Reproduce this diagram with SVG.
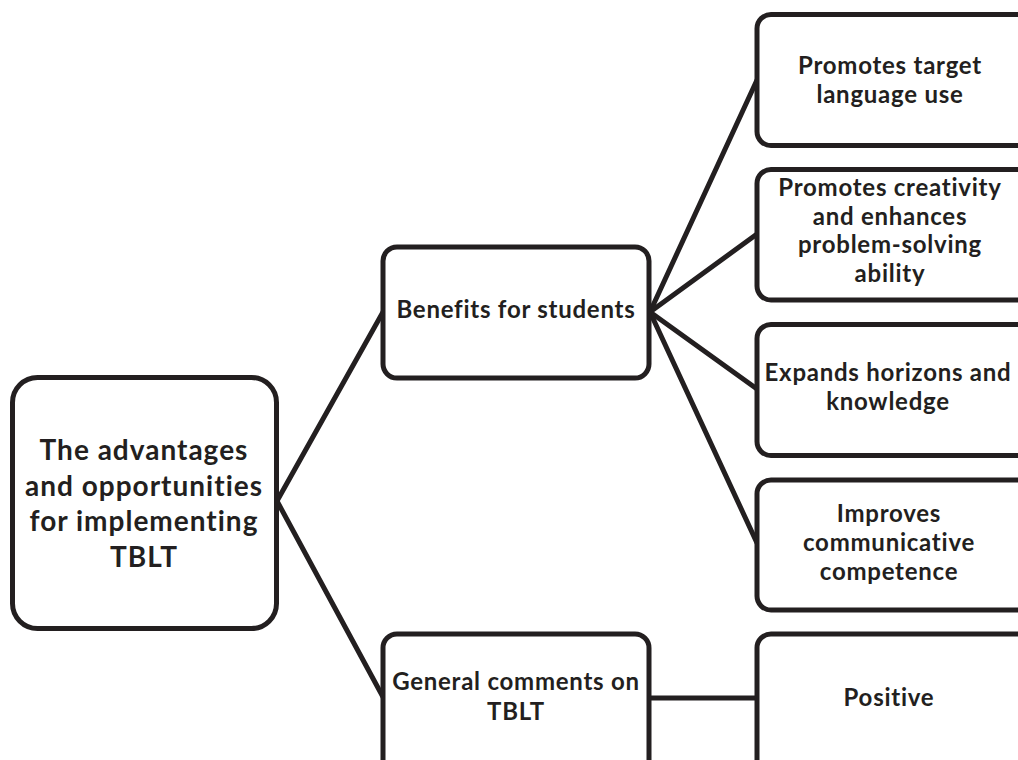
<svg xmlns="http://www.w3.org/2000/svg" width="1018" height="760" viewBox="0 0 1018 760">
<style>
.box{fill:#ffffff;stroke:#231f20;stroke-width:5}
.edge{fill:none;stroke:#231f20;stroke-width:5;stroke-linecap:round}
text{font-family:Lato,"Open Sans","Liberation Sans",sans-serif;font-weight:700;fill:#231f20;text-anchor:middle;font-size:24px;letter-spacing:0.75px}
.big{font-size:28px;letter-spacing:1px}
</style>
<rect width="1018" height="760" fill="#ffffff"/>
<g id="connectors">
<line class="edge" x1="277" y1="501" x2="383" y2="312"/>
<line class="edge" x1="277" y1="501" x2="383" y2="697"/>
<line class="edge" x1="650" y1="312" x2="757" y2="80"/>
<line class="edge" x1="650" y1="312" x2="757" y2="234"/>
<line class="edge" x1="650" y1="312" x2="757" y2="389"/>
<line class="edge" x1="650" y1="312" x2="757" y2="543"/>
<line class="edge" x1="649" y1="698" x2="757" y2="698"/>
</g>
<g id="root">
<rect class="box" x="12.5" y="377.5" width="264" height="251" rx="25"/>
<text class="big" x="144" y="460">The advantages</text>
<text class="big" x="144" y="495.5">and opportunities</text>
<text class="big" x="144" y="531">for implementing</text>
<text class="big" x="144" y="566.5">TBLT</text>
</g>
<g id="benefits">
<rect class="box" x="383" y="247" width="266" height="131" rx="14"/>
<text x="516" y="318">Benefits for students</text>
</g>
<g id="general">
<rect class="box" x="383" y="634" width="266" height="160" rx="14"/>
<text x="516" y="690">General comments on</text>
<text x="516" y="720">TBLT</text>
</g>
<g id="target-language">
<rect class="box" x="757" y="14.5" width="290" height="131" rx="14"/>
<text x="890" y="74">Promotes target</text>
<text x="890" y="102.5">language use</text>
</g>
<g id="creativity">
<rect class="box" x="757" y="169.5" width="290" height="130.5" rx="14"/>
<text x="890" y="196">Promotes creativity</text>
<text x="890" y="224.5">and enhances</text>
<text x="890" y="253">problem-solving</text>
<text x="890" y="281.5">ability</text>
</g>
<g id="horizons">
<rect class="box" x="757" y="324.5" width="290" height="131" rx="14"/>
<text x="888" y="381">Expands horizons and</text>
<text x="888" y="409.5">knowledge</text>
</g>
<g id="communicative">
<rect class="box" x="757" y="480" width="290" height="130" rx="14"/>
<text x="889" y="522">Improves</text>
<text x="889" y="551">communicative</text>
<text x="889" y="580">competence</text>
</g>
<g id="positive">
<rect class="box" x="757" y="634" width="290" height="160" rx="14"/>
<text x="889" y="706">Positive</text>
</g>
</svg>
